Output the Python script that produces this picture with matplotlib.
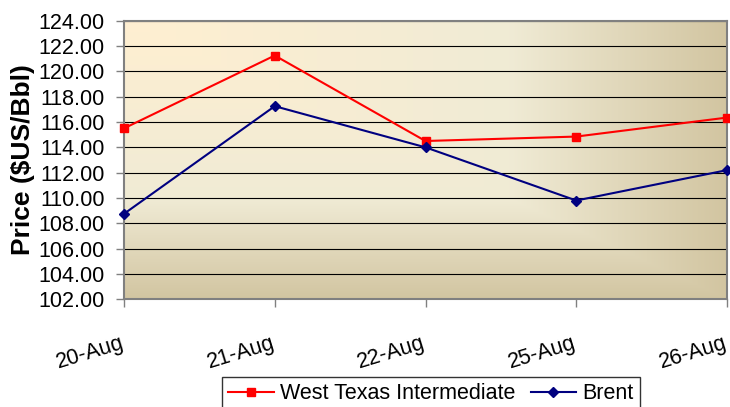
import numpy as np
import matplotlib
matplotlib.use("Agg")
import matplotlib.pyplot as plt
from matplotlib.colors import to_rgb
from matplotlib.transforms import ScaledTranslation

dates = ["20-Aug", "21-Aug", "22-Aug", "25-Aug", "26-Aug"]
wti = [115.5, 121.25, 114.5, 114.85, 116.35]
brent = [108.75, 117.25, 114.0, 109.8, 112.2]
y_ticks = [102, 104, 106, 108, 110, 112, 114, 116, 118, 120, 122, 124]

plt.rcParams['font.family'] = ['Liberation Sans', 'DejaVu Sans']

fig = plt.figure(figsize=(7.30, 4.07), dpi=100)
fig.patch.set_facecolor('white')
ax = fig.add_axes([124/730, 1 - 299.3/407, (727-124)/730, (299.3-20.7)/407])

# Parchment gradient from top-left corner
H, W = 300, 600
xf = np.linspace(0, 1, W)[None, :]
yf = np.linspace(0, 1, H)[:, None]
t = np.maximum(xf, yf)
stops = [0.0, 0.64, 1.0]
cols = [to_rgb('#FFEFD1'), to_rgb('#F0EBD5'), to_rgb('#D2C5A1')]
img = np.zeros((H, W, 3))
for c in range(3):
    img[..., c] = np.interp(t, stops, [col[c] for col in cols])
ax.imshow(img, extent=(0, 1, 0, 1), transform=ax.transAxes, aspect='auto',
          origin='upper', zorder=0, interpolation='bilinear')
ax.patch.set_visible(False)

x = np.arange(len(dates))
ax.plot(x, wti, color='#FF0000', lw=1.5, marker='s', ms=5.5, mec='#FF0000',
        mfc='#FF0000', label='West Texas Intermediate', zorder=3, clip_on=False)
ax.plot(x, brent, color='#000080', lw=1.5, marker='D', ms=4.8, mec='#000080',
        mfc='#000080', label='Brent', zorder=3, clip_on=False)

ax.set_xlim(0, len(dates) - 1)
ax.set_ylim(y_ticks[0], y_ticks[-1])
ax.set_yticks(y_ticks)
ax.set_yticklabels([f"{v:.2f}" for v in y_ticks], fontsize=15.5)
ax.set_xticks(x)
ax.set_xticklabels(dates, fontsize=15.5, rotation=17, ha='right', va='top',
                   rotation_mode='anchor')
ax.tick_params(axis='x', direction='out', length=6, width=1, color='#808080', pad=18)
ax.tick_params(axis='y', direction='out', length=6, width=1, color='#808080', pad=8)
shift = ScaledTranslation(-4/100, 0, fig.dpi_scale_trans)
for lab in ax.get_xticklabels():
    lab.set_transform(lab.get_transform() + shift)

ax.grid(axis='y', color='#000000', lw=0.8)
ax.set_axisbelow(True)
for s in ax.spines.values():
    s.set_color('#808080')
    s.set_linewidth(1.5)
    s.set_zorder(2.5)

ax.set_ylabel('Price ($US/Bbl)', fontsize=19, fontweight='bold', va='center')
ax.yaxis.set_label_coords((23 - 124) / 603, 0.5)

leg = fig.legend(loc='upper center', bbox_to_anchor=(431/730, 1 - 377/407),
                 ncol=2, fontsize=15.5, frameon=True, fancybox=False,
                 edgecolor='#000000', handlelength=2.1, handletextpad=0.3,
                 columnspacing=0.7, borderpad=0.3, borderaxespad=0)
leg.get_frame().set_linewidth(1.0)

fig.savefig('out.png', dpi=100)
